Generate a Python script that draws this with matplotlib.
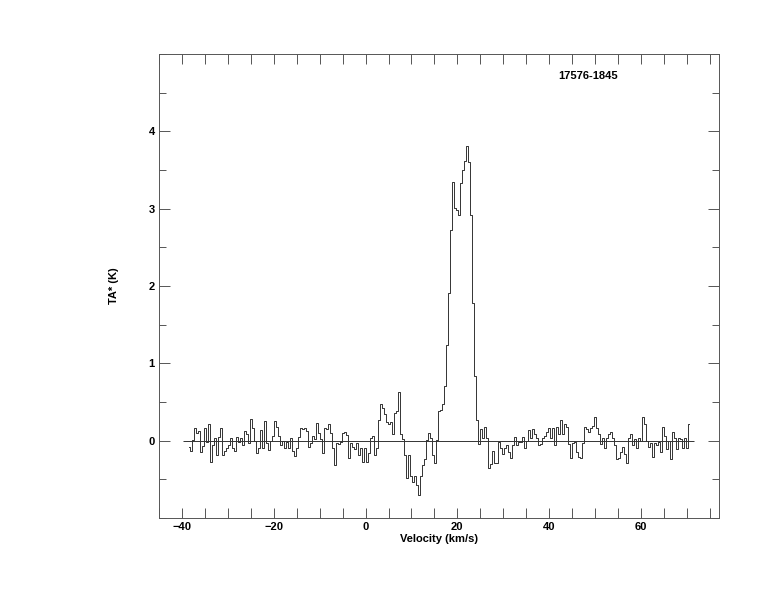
import numpy as np
import matplotlib
matplotlib.use('Agg')
from matplotlib import pyplot as plt
from matplotlib.ticker import MultipleLocator, FixedLocator

# spectrum 17576-1845, antenna temperature per channel
seg_a = [-0.08, -0.13, 0.01, 0.16, 0.10, 0.12, -0.15, -0.07, 0.16, -0.02,
         0.21, -0.27, -0.05, 0.04, -0.18, 0.05, 0.17, -0.18, -0.13, -0.10,
         -0.05, 0.03, -0.10, -0.13, 0.05, -0.02, 0.03, -0.05, 0.13, 0.09,
         -0.03, 0.28, 0.16, -0.01, -0.16, -0.10, 0.14, -0.10, 0.26, -0.03,
         -0.12, 0.00, 0.06, 0.26, 0.18, 0.06, -0.06, -0.01, -0.09, -0.02,
         -0.10, 0.03, -0.13, -0.20, -0.10, 0.05, 0.17]
seg_b = [0.15, 0.16, 0.12, -0.08, -0.03, 0.06, 0.02, 0.23, 0.10, 0.02,
         -0.16, 0.16, 0.15, 0.21, 0.10, -0.09, -0.31, -0.03, -0.04, -0.02,
         0.10, 0.11, 0.07, -0.22, -0.03, -0.08]
seg_c = [-0.11, -0.03, -0.18, -0.09, -0.27, -0.10, -0.27, -0.16, 0.03, 0.06,
         -0.19, -0.09]
seg_d = [0.27, 0.47, 0.42, 0.35, 0.24, 0.22, 0.24, 0.08, 0.36, 0.38,
         0.63, 0.08, 0.02, -0.19, -0.48, -0.19, -0.46, -0.54, -0.46, -0.57,
         -0.70, -0.46, -0.32, -0.24, 0.01, 0.10, 0.03, -0.18, -0.29, 0.01,
         0.38, 0.40, 0.47, 0.71]
peak = [1.24, 1.91, 2.73, 3.34, 3.01, 2.98, 2.92, 3.33, 3.50, 3.61,
        3.81, 3.60, 2.92, 1.78, 0.83, 0.27]
seg_e = [-0.04, 0.15, 0.04, 0.18, 0.03, -0.35, -0.30, -0.14, -0.29, -0.29,
         -0.02, -0.09, -0.17, -0.09, -0.06, -0.15, -0.22, -0.06, 0.05, -0.05,
         -0.02, -0.02, 0.05, -0.09, 0.00, 0.14, 0.04, 0.15, 0.09, 0.03,
         -0.06, -0.04, 0.04, 0.06, 0.11, 0.16, 0.03, 0.17, -0.06, 0.18,
         0.09, 0.27, 0.08, 0.22, 0.18, -0.04, -0.22, -0.03, -0.02, -0.15,
         -0.21, -0.22, -0.03, 0.18, 0.15, 0.11, 0.17, 0.19, 0.31, 0.17,
         0.09, -0.04, 0.03, -0.10, 0.03, 0.09, 0.11, 0.03, -0.06, -0.24,
         -0.22, -0.15, -0.08, -0.17, -0.29, 0.04, 0.09, -0.06, 0.02, -0.09,
         0.04, -0.01, 0.30, 0.22, -0.01, -0.08, -0.03, -0.21, -0.03, -0.06,
         -0.02, -0.15, 0.18, 0.06, -0.11, 0.00, -0.24, 0.11, 0.03, -0.11,
         0.03, 0.02, -0.09, 0.03, -0.09, 0.22]

ta = np.array(seg_a + seg_b + seg_c + seg_d + peak + seg_e)
v_start, v_end = -38.7, 70.6
dv = (v_end - v_start) / len(ta)
vel = v_start + dv * (np.arange(len(ta)) + 0.5)

source = '17576-1845'

fig = plt.figure(figsize=(7.74, 6.12), dpi=100)
ax = fig.add_axes([159/774, 1 - 518/612, 560/774, 464/612])

ax.step(vel, ta, where='mid', color='#333333', lw=0.7)
ax.hlines(0, -39.8, 71.5, color='#333333', lw=0.7)

ax.set_xlim(-45, 77)
ax.set_ylim(-1, 5)

ax.xaxis.set_major_locator(FixedLocator([-40, -20, 0, 20, 40, 60]))
ax.xaxis.set_minor_locator(MultipleLocator(5))
ax.yaxis.set_major_locator(FixedLocator([0, 1, 2, 3, 4]))
ax.yaxis.set_minor_locator(MultipleLocator(0.5))

ax.tick_params(axis='both', which='both', direction='in', top=True, right=True,
               width=0.7, color='#555555')
ax.tick_params(axis='x', which='both', length=7, pad=3)
ax.tick_params(axis='y', which='major', length=8, pad=3)
ax.tick_params(axis='y', which='minor', length=5)
for lab in ax.get_xticklabels() + ax.get_yticklabels():
    lab.set_fontweight('bold')
    lab.set_fontsize(8)
    lab.set_family('Liberation Sans')
for s in ax.spines.values():
    s.set_linewidth(0.7)
    s.set_color('#555555')

ax.set_xlabel('Velocity (km/s)', fontsize=8, fontweight='bold',
              family='Liberation Sans', labelpad=1)
ax.set_ylabel('TA* (K)', fontsize=8, fontweight='bold', family='Liberation Sans')
ax.yaxis.set_label_coords(-0.072, 0.5)

ax.text(48.5, 4.72, source, fontsize=8, fontweight='bold',
        family='Liberation Sans', ha='center', va='center')

fig.savefig('out.png', dpi=100)
